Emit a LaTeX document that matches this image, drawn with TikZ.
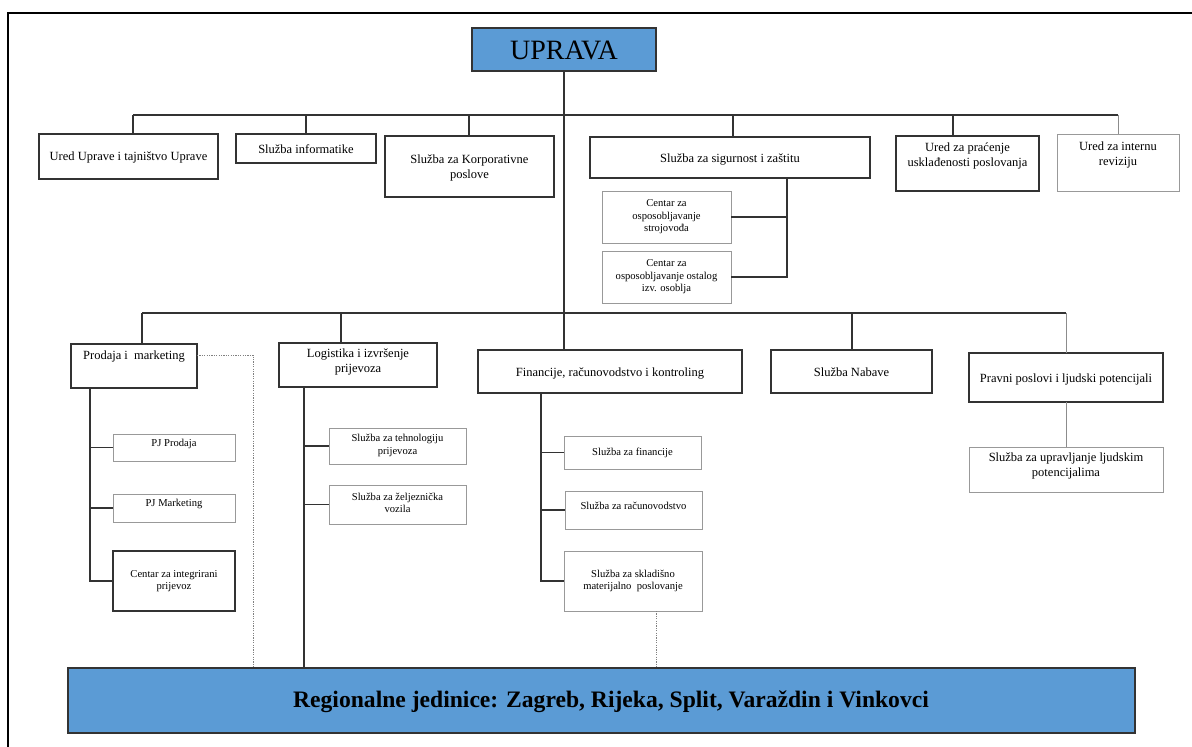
\documentclass[tikz,border=0pt]{standalone}
\usepackage{fontspec}
\setmainfont{Liberation Serif}
\definecolor{bluefill}{HTML}{5B9BD5}
\newcommand\mybox[6]{%
  \pgfmathsetmacro\mbW{#5-#3}\pgfmathsetmacro\mbH{#6-#4}%
  \pgfmathsetmacro\mbX{(#3+#5)/2}\pgfmathsetmacro\mbY{(#4+#6)/2}%
  \node[#1, minimum width=\mbW pt, minimum height=\mbH pt] (#2) at (\mbX,\mbY) {};}
\begin{document}
\begin{tikzpicture}[x=1pt,y=-1pt,
  tb/.style={draw=black!80, line width=1.6pt, inner sep=0pt, outer sep=0pt},
  gb/.style={draw=black!40, line width=0.9pt, inner sep=0pt, outer sep=0pt},
  blu/.style={tb, fill=bluefill},
  con/.style={draw=black!80, line width=1.5pt},
  gcon/.style={draw=black!45, line width=0.9pt},
  dotline/.style={draw=black!50, line width=0.8pt, dash pattern=on 1.2pt off 1.2pt},
  big/.style={font=\fontsize{12.5}{14.5}\selectfont, align=center, inner sep=0pt},
  sm/.style={font=\fontsize{10.6}{12.6}\selectfont, align=center, inner sep=0pt},
]
\useasboundingbox (0,0) rectangle (1192,747);
% frame
\coordinate (fa) at (8,747); \coordinate (fb) at (8,13); \coordinate (fc) at (1192,13);
\draw[black, line width=1.3pt] (fa) -- (fb) -- (fc);

% boxes
\mybox{blu}{upr}{472}{28}{656}{71}
\node[font=\fontsize{28}{32}\selectfont, inner sep=0pt] (upr-t) at (564,50) {UPRAVA};

\mybox{tb}{ured}{39}{134}{218}{179}
\mybox{tb}{inf}{236}{134}{376}{163}
\mybox{tb}{kor}{385}{136}{554}{197}
\mybox{tb}{sig}{590}{137}{870}{178}
\mybox{tb}{pra}{896}{136}{1039}{191}
\mybox{gb}{rev}{1057}{134}{1179}{191}
\mybox{gb}{cs}{602}{191}{731}{243}
\mybox{gb}{co}{602}{251}{731}{303}

\node[big] (ured-t) at (128.5,157) {Ured Uprave i tajništvo Uprave};
\node[big] (inf-t) at (306,149) {Služba informatike};
\node[big] (kor-t) at (469.5,168) {Služba za Korporativne\\poslove};
\node[big] (sig-t) at (730,159) {Služba za sigurnost i zaštitu};
\node[big] (pra-t) at (967.5,156) {Ured za praćenje\\usklađenosti poslovanja};
\node[big] (rev-t) at (1118,155) {Ured za internu\\reviziju};
\node[sm] (cs-t) at (666.5,217) {Centar za\\osposobljavanje\\strojovođa};
\node[sm] (co-t) at (666.5,277) {Centar za\\osposobljavanje ostalog\\izv. osoblja};

\mybox{tb}{prod}{71}{344}{197}{388}
\mybox{tb}{log}{279}{343}{437}{387}
\mybox{tb}{fin}{478}{350}{742}{393}
\mybox{tb}{nab}{771}{350}{932}{393}
\mybox{tb}{prav}{969}{353}{1163}{402}
\mybox{gb}{ulj}{969}{447}{1163}{492}

\node[big] (prod-t) at (134,357) {Prodaja i~ marketing};
\node[big] (log-t) at (358,362) {Logistika i izvršenje\\prijevoza};
\node[big] (fin-t) at (610,373) {Financije, računovodstvo i kontroling};
\node[big] (nab-t) at (851.5,372) {Služba Nabave};
\node[big] (prav-t) at (1066,379) {Pravni poslovi i ljudski potencijali};
\node[big] (ulj-t) at (1066,466) {Služba za upravljanje ljudskim\\potencijalima};

\mybox{gb}{pjp}{113}{434}{235}{461}
\mybox{gb}{pjm}{113}{494}{235}{522}
\mybox{tb}{cint}{113}{551}{235}{611}
\node[sm] (pjp-t) at (174,444) {PJ Prodaja};
\node[sm] (pjm-t) at (174,504) {PJ Marketing};
\node[sm] (cint-t) at (174,581) {Centar za integrirani\\prijevoz};

\mybox{gb}{teh}{329}{428}{466}{464}
\mybox{gb}{zel}{329}{485}{466}{524}
\node[sm] (teh-t) at (397.5,445.5) {Služba za tehnologiju\\prijevoza};
\node[sm] (zel-t) at (397.5,503) {Služba za željeznička\\vozila};

\mybox{gb}{fsub}{564}{436}{701}{469}
\mybox{gb}{rac}{565}{491}{702}{529}
\mybox{gb}{skl}{564}{551}{702}{611}
\node[sm] (fsub-t) at (632.5,453) {Služba za financije};
\node[sm] (rac-t) at (633.5,506) {Služba za računovodstvo};
\node[sm] (skl-t) at (633,581) {Služba za skladišno\\materijalno~ poslovanje};

\mybox{blu}{reg}{68}{668}{1135}{733}
\node[font=\bfseries\fontsize{23.6}{26}\selectfont, inner sep=0pt] (reg-t) at (611,702) {Regionalne jedinice: Zagreb, Rijeka, Split, Varaždin i Vinkovci};

% bus 1
\coordinate (b1l) at (133,115); \coordinate (b1r) at (1118,115);
\coordinate (d1) at (306,115); \coordinate (d2) at (469,115);
\coordinate (d3) at (733,115); \coordinate (d4) at (953,115);
\draw[con] (upr.south) -- (upr.south |- fin.north);
\draw[con] (b1l) -- (b1r);
\draw[con] (b1l) -- (b1l |- ured.north);
\draw[con] (d1) -- (d1 |- inf.north);
\draw[con] (d2) -- (d2 |- kor.north);
\draw[con] (d3) -- (d3 |- sig.north);
\draw[con] (d4) -- (d4 |- pra.north);
\draw[gcon] (b1r) -- (rev.north);
% sigurnost children
\coordinate (sgx) at (787,0);
\draw[con] (sig.south -| sgx) -- (sgx |- co.east) -- (co.east);
\draw[con] (sgx |- cs.east) -- (cs.east);

% bus 2
\coordinate (b2l) at (142,313); \coordinate (b2r) at (1066,313);
\coordinate (e1) at (341,313); \coordinate (e2) at (852,313);
\draw[con] (b2l) -- (b2r);
\draw[con] (b2l) -- (b2l |- prod.north);
\draw[con] (e1) -- (e1 |- log.north);
\draw[con] (e2) -- (e2 |- nab.north);
\draw[gcon] (b2r) -- (prav.north);
\draw[gcon] (prav.south) -- (ulj.north);

% prodaja children
\coordinate (px) at (90,0);
\draw[con] (prod.south -| px) -- (px |- cint.west) -- (cint.west);
\draw[con] (px |- pjp.west) -- (pjp.west);
\draw[con] (px |- pjm.west) -- (pjm.west);
\coordinate (pd) at (253,355);
\draw[dotline] (prod.east |- pd) -- (pd) -- (pd |- reg.north);

% logistika children
\coordinate (lx) at (304,0);
\draw[con] (log.south -| lx) -- (lx |- reg.north);
\draw[con] (lx |- teh.west) -- (teh.west);
\draw[con] (lx |- zel.west) -- (zel.west);

% financije children
\coordinate (fx) at (541,0);
\draw[con] (fin.south -| fx) -- (fx |- skl.west) -- (skl.west);
\draw[con] (fx |- fsub.west) -- (fsub.west);
\draw[con] (fx |- rac.west) -- (rac.west);
\coordinate (sd) at (656,0);
\draw[dotline] (skl.south -| sd) -- (sd |- reg.north);
\end{tikzpicture}
\end{document}
